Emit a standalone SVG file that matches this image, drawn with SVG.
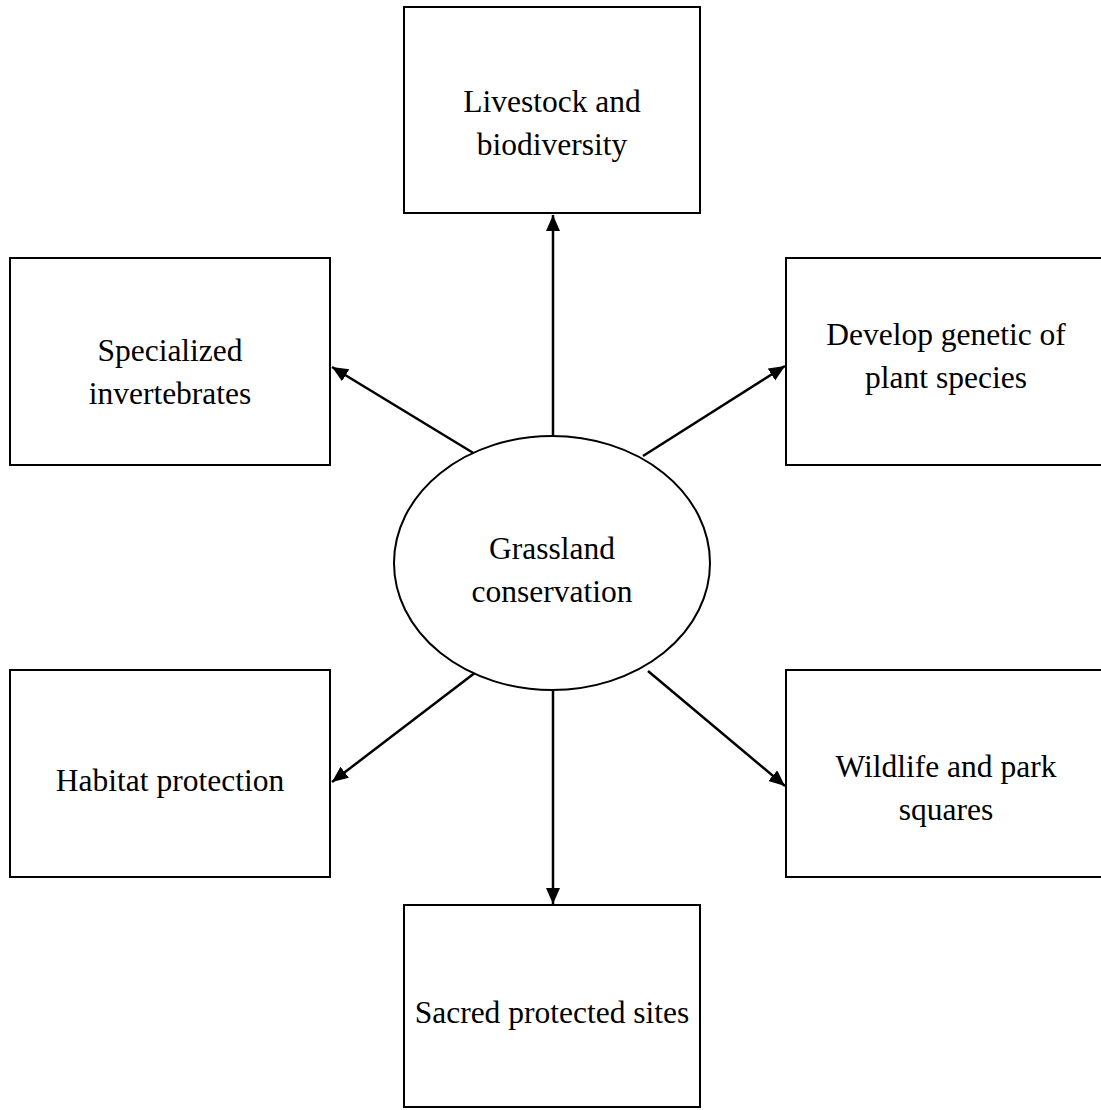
<svg xmlns="http://www.w3.org/2000/svg" width="1101" height="1110" viewBox="0 0 1101 1110">
<defs>
<style>
.box{fill:#fff;stroke:#000;stroke-width:2}
.ell{fill:#fff;stroke:#000;stroke-width:2}
.lbl{font-family:"Liberation Serif","Times New Roman",serif;font-size:31.5px;fill:#000;text-anchor:middle}
.con{stroke:#000;stroke-width:2.5;fill:none;marker-end:url(#ah)}
</style>
<marker id="ah" markerUnits="userSpaceOnUse" markerWidth="18" markerHeight="16" refX="16" refY="7" orient="auto">
<path d="M0,0 L16,7 L0,14 Z" fill="#000"/>
</marker>
</defs>
<rect width="1101" height="1110" fill="#fff"/>
<g id="connectors">
<line class="con" x1="553" y1="436" x2="553" y2="215"/>
<line class="con" x1="475" y1="454" x2="332" y2="367"/>
<line class="con" x1="643" y1="456" x2="785" y2="366"/>
<line class="con" x1="476" y1="672" x2="332" y2="782"/>
<line class="con" x1="648" y1="671" x2="785" y2="786"/>
<line class="con" x1="553" y1="690" x2="553" y2="904"/>
</g>
<g id="n-livestock">
<rect class="box" x="404" y="7" width="296" height="206"/>
<text class="lbl" x="552" y="112">Livestock and</text>
<text class="lbl" x="552" y="155">biodiversity</text>
</g>
<g id="n-specialized">
<rect class="box" x="10" y="258" width="320" height="207"/>
<text class="lbl" x="170" y="361">Specialized</text>
<text class="lbl" x="170" y="404">invertebrates</text>
</g>
<g id="n-develop">
<rect class="box" x="786" y="258" width="330" height="207"/>
<text class="lbl" x="946" y="345">Develop genetic of</text>
<text class="lbl" x="946" y="388">plant species</text>
</g>
<g id="n-center">
<ellipse class="ell" cx="552" cy="563" rx="158" ry="127"/>
<text class="lbl" x="552" y="559">Grassland</text>
<text class="lbl" x="552" y="602">conservation</text>
</g>
<g id="n-habitat">
<rect class="box" x="10" y="670" width="320" height="207"/>
<text class="lbl" x="170" y="791">Habitat protection</text>
</g>
<g id="n-wildlife">
<rect class="box" x="786" y="670" width="330" height="207"/>
<text class="lbl" x="946" y="777">Wildlife and park</text>
<text class="lbl" x="946" y="820">squares</text>
</g>
<g id="n-sacred">
<rect class="box" x="404" y="905" width="296" height="202"/>
<text class="lbl" x="552" y="1023">Sacred protected sites</text>
</g>
</svg>
